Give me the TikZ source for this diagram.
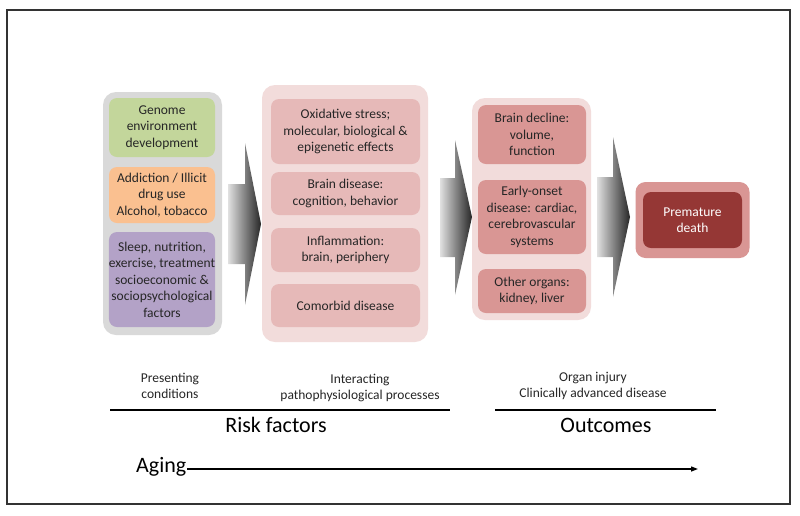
\documentclass[tikz,border=0pt]{standalone}
\usepackage{fontspec}
\setmainfont{Carlito}
\usetikzlibrary{arrows.meta}
\definecolor{framec}{HTML}{333333}
\definecolor{graypanel}{HTML}{D9D9D9}
\definecolor{greenbox}{HTML}{C3D69B}
\definecolor{orangebox}{HTML}{FAC090}
\definecolor{purplebox}{HTML}{B3A2C7}
\definecolor{pinkpanel}{HTML}{F2DCDB}
\definecolor{pinkbox}{HTML}{E6B9B8}
\definecolor{rosebox}{HTML}{D99694}
\definecolor{darkred}{HTML}{953735}
\definecolor{txt}{HTML}{262626}
\tikzset{
  panel/.style={rounded corners=13pt, inner sep=0pt, draw=none},
  boxs/.style={rounded corners=8pt, inner sep=0pt, draw=none, align=center,
    text=txt, font=\fontsize{13.5}{16.5}\selectfont},
  lbl/.style={align=center, text=txt, font=\fontsize{13.5}{16.5}\selectfont, inner sep=0pt},
  biglbl/.style={text=black, font=\fontsize{22}{26}\selectfont, inner sep=0pt},
  bigarrow/.style={left color=black!12, right color=black!85, draw=none},
  rule/.style={line width=1.3pt, black}
}
\begin{document}
\begin{tikzpicture}[x=1pt,y=-1pt]
\useasboundingbox (0,0) rectangle (800,515);
\fill[white] (0,0) rectangle (800,515);
\draw[framec, line width=2pt] (7,10) rectangle (790,504);

% left panel
\node[panel, fill=graypanel, minimum width=119pt, minimum height=243pt] (lp) at (162.5,213.5) {};
\node[boxs, fill=greenbox, minimum width=106pt, minimum height=59pt] (g1) at (162,127.5) {Genome\\environment\\development};
\node[boxs, fill=orangebox, minimum width=106pt, minimum height=56pt] (g2) at (162,195) {Addiction / Illicit\\drug use\\Alcohol, tobacco};
\node[boxs, fill=purplebox, minimum width=106pt, minimum height=95pt] (g3) at (162,279.5) {Sleep, nutrition,\\exercise, treatment\\socioeconomic \&\\sociopsychological\\factors};

% middle panel
\node[panel, fill=pinkpanel, minimum width=166pt, minimum height=257pt] (mp) at (345,213.5) {};
\node[boxs, fill=pinkbox, minimum width=149pt, minimum height=65pt] (m1) at (345.5,131.5) {Oxidative stress;\\molecular, biological \&\\epigenetic effects};
\node[boxs, fill=pinkbox, minimum width=149pt, minimum height=43pt] (m2) at (345.5,193.5) {Brain disease:\\cognition, behavior};
\node[boxs, fill=pinkbox, minimum width=149pt, minimum height=44pt] (m3) at (345.5,250) {Inflammation:\\brain, periphery};
\node[boxs, fill=pinkbox, minimum width=149pt, minimum height=43pt] (m4) at (345.5,305.5) {Comorbid disease};

% right panel
\node[panel, fill=pinkpanel, minimum width=119pt, minimum height=222pt] (rp) at (531.5,209) {};
\node[boxs, fill=rosebox, minimum width=108pt, minimum height=59pt] (r1) at (532,134.5) {Brain decline:\\volume,\\function};
\node[boxs, fill=rosebox, minimum width=108pt, minimum height=74pt] (r2) at (532,217) {Early-onset\\disease: cardiac,\\cerebrovascular\\systems};
\node[boxs, fill=rosebox, minimum width=108pt, minimum height=44pt] (r3) at (532,291) {Other organs:\\kidney, liver};

% premature death
\node[panel, rounded corners=10pt, fill=rosebox, minimum width=114pt, minimum height=76pt] (pdo) at (692.5,220) {};
\node[boxs, fill=darkred, text=white, minimum width=99pt, minimum height=56pt] (pd) at (692.5,220) {Premature\\death};

% block arrows
\path[bigarrow] (228,184) -- (245,184) -- (245,143) -- (261,224) -- (245,305) -- (245,264) -- (228,264) -- cycle;
\path[bigarrow] (440,178) -- (455,178) -- (455,140) -- (472,217) -- (455,295) -- (455,257) -- (440,257) -- cycle;
\path[bigarrow] (597,177) -- (613,177) -- (613,137) -- (630,217) -- (613,297) -- (613,257) -- (597,257) -- cycle;

% bottom labels
\node[lbl] (pc) at (170,386) {Presenting\\conditions};
\node[lbl] (ip) at (360,388) {Interacting\\pathophysiological processes};
\node[lbl] (oi) at (593,386) {Organ injury\\Clinically advanced disease};
\coordinate (l1a) at (110,410);
\coordinate (l1b) at (450,410);
\coordinate (l2a) at (495,410);
\coordinate (l2b) at (716,410);
\draw[rule] (l1a) -- (l1b);
\draw[rule] (l2a) -- (l2b);
\node[biglbl] (rf) at (276,425) {Risk factors};
\node[biglbl] (oc) at (606,425) {Outcomes};
\node[biglbl, anchor=west] (ag) at (136,467) {Aging};
\coordinate (agend) at (698,469);
\draw[line width=1.3pt, -{Triangle[length=7pt,width=5pt]}] (ag.east |- agend) ++(1,0) -- (agend);
\end{tikzpicture}
\end{document}
